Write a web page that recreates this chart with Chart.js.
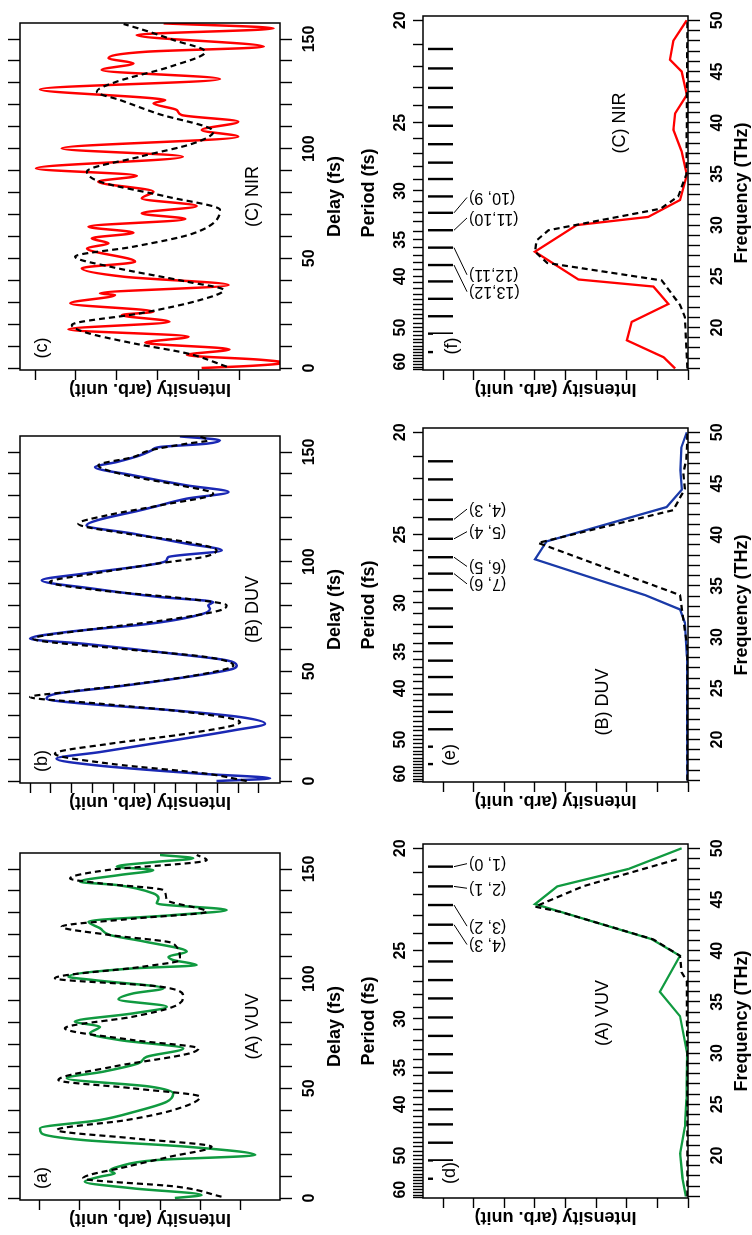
<!DOCTYPE html>
<html><head><meta charset="utf-8">
<script src="https://cdn.jsdelivr.net/npm/chart.js@4.4.1/dist/chart.umd.min.js"></script>
<style>
html,body{margin:0;padding:0;background:#fff;overflow:hidden;width:752px;height:1235px;}
#fig{position:absolute;left:0;top:0;width:1235px;height:752px;transform-origin:0 0;transform:translate(0px,1235px) rotate(-90deg);background:#fff;}
#fig canvas{position:absolute;}
</style></head><body><div id="fig"></div>
<script>
// ---------------- axis ticks ----------------
const delayTicks = [0,10,20,30,40,50,60,70,80,90,100,110,120,130,140,150];
const delayLabels = [0,50,100,150];
const freqTicks = [16,17,18,19,20,21,22,23,24,25,26,27,28,29,30,31,32,33,34,35,36,37,38,39,40,41,42,43,44,45,46,47,48,49,50];
const freqLabels = [20,25,30,35,40,45,50];
const periodTicks = [20,21,22,23,24,25,26,27,28,29,30,31,32,33,34,35,36,37,38,39,40,41,42,43,44,45,46,47,48,49,50,51,52,53,54,55,56,57,58,59,60,61,62,63];
const periodLabels = [20,25,30,35,40,50,60];
const intTicks6 = [0,1,2,3,4,5];
const intTicks12 = [0,1,2,3,4,5,6,7,8,9,10,11];
const intTicksSpec = [0,1,2,3,4,5,6,7,8];

// ---------------- time traces: [delay fs, intensity] ----------------
const vuvSolid = [[0,1.63],[1.37,0.96],[4.41,2.67],[7.45,3.88],[9.73,3.5],[11.25,3.13],[12.46,3.25],[14.29,3.04],[17.33,2.08],[19.6,-0.38],[23.4,1.33],[26.44,3.92],[29.48,4.96],[31.76,5.0],[35.56,3.5],[39.36,2.63],[43.9,1.83],[47.7,1.67],[50.8,2.25],[54.6,4.33],[57.6,3.42],[61.4,2.54],[64.4,2.33],[68.2,1.42],[72.0,3.0],[75.1,3.75],[78.1,3.5],[80.4,4.13],[84.2,2.67],[87.2,1.83],[90.6,3.04],[93.3,2.67],[95.6,1.92],[99.4,3.67],[100.9,4.29],[104.7,2.67],[106.2,1.08],[108.5,1.67],[110.0,1.79],[112.3,1.33],[116.9,2.38],[119.9,3.25],[123.0,3.5],[126.0,3.79],[129.0,1.67],[131.3,0.33],[134.3,2.08],[136.6,2.04],[138.9,2.17],[142.7,3.08],[144.2,4.0],[147.3,3.0],[149.5,2.17],[151.1,3.08],[153.3,2.08],[154.9,1.17],[156.4,2.0]];
const vuvDash = [[0.61,0.46],[5.17,1.58],[8.97,3.92],[14.29,2.83],[18.84,1.75],[23.4,0.71],[27.2,2.67],[31.0,4.58],[35.56,2.83],[40.1,1.67],[46.2,1.0],[50.0,2.67],[53.8,4.54],[59.9,3.17],[66.0,1.25],[68.2,1.04],[72.0,2.67],[77.4,4.38],[82.7,2.67],[87.2,1.67],[91.8,1.42],[96.4,2.0],[100.2,4.63],[105.5,2.42],[108.5,1.5],[116.1,1.67],[119.9,3.25],[123.7,4.46],[127.5,2.58],[130.5,0.83],[135.9,1.83],[140.4,1.92],[143.5,3.5],[145.7,4.25],[149.5,3.33],[154.1,0.83],[156.4,1.08]];
const duvSolid = [[0,2.04],[1.22,-0.53],[3.34,2.84],[7.14,7.8],[10.18,9.73],[13.22,7.64],[18.54,4.12],[23.1,1.23],[26.14,-0.29],[29.18,0.91],[32.22,4.12],[36.02,9.25],[37.54,10.21],[39.82,9.73],[42.86,7.0],[47.42,3.48],[51.22,1.23],[52.74,1.07],[55.02,1.55],[58.05,4.12],[62.61,8.45],[64.89,11.01],[67.93,9.25],[71.73,5.24],[76.29,2.68],[78.57,2.36],[80.1,2.44],[81.6,2.2],[83.89,4.76],[87.69,7.96],[91.49,10.45],[94.53,8.45],[99.09,4.92],[100.6,4.44],[102.1,4.36],[105.17,1.79],[108.21,3.48],[112.77,6.04],[116.57,8.29],[118.84,7.8],[123.4,5.72],[124.92,5.08],[128.72,3.48],[131.76,1.47],[134.8,3.48],[139.36,6.04],[143.16,7.88],[145.44,6.84],[148.48,5.72],[150.76,5.16],[152.28,4.76],[153.8,2.52],[155.32,1.88],[157.14,3.8]];
const duvDash = [[0,0.59],[3.34,2.52],[7.9,7.16],[12.46,9.81],[17.02,7.16],[21.58,3.48],[26.9,0.91],[31.46,3.48],[35.26,7.64],[38.3,11.01],[40.58,9.25],[45.14,5.24],[49.7,2.2],[52.74,1.23],[56.53,2.52],[60.33,6.68],[64.89,10.85],[68.69,8.45],[73.25,4.6],[77.81,1.88],[80.1,1.55],[83.13,3.48],[86.93,7.64],[90.73,10.05],[94.53,7.96],[99.09,4.92],[102.13,2.68],[105.17,2.04],[108.97,3.48],[112.77,6.36],[117.33,8.69],[121.12,7.32],[125.68,4.76],[131.0,2.2],[134.8,3.8],[139.36,6.36],[143.92,7.72],[147.72,6.04],[150.76,5.24],[153.8,3.48],[155.32,2.44],[157.14,2.84]];
const nirSolid = [[0,0.92],[1.06,-0.35],[2.43,-1.09],[3.8,-0.51],[5.93,1.28],[8.51,0.24],[11.55,2.3],[14.29,1.24],[17.63,4.18],[21.12,1.71],[24.16,2.88],[25.68,2.1],[29.48,4.14],[33.28,3.04],[34.04,3.41],[37.84,0.26],[41.64,2.83],[45.44,3.86],[48.48,2.55],[54.56,3.73],[56.84,3.2],[59.12,3.61],[61.7,2.59],[64.44,3.69],[67.93,1.32],[70.52,2.39],[73.86,1.04],[77.36,2.39],[80.4,2.1],[84.95,3.45],[87.69,2.51],[91.03,4.98],[96.35,1.38],[100.15,4.35],[105.47,0.02],[108.51,0.92],[112.31,0.02],[115.35,1.41],[117.63,1.53],[120.67,2.1],[122.19,1.81],[122.95,2.1],[127.05,4.88],[131.76,0.47],[135.87,3.37],[138.91,2.59],[141.19,3.2],[144.22,2.26],[146.5,-0.6],[151.82,2.51],[154.86,-0.84],[157.14,1.85]];
const nirDash = [[0.61,0.3],[6.69,1.28],[11.25,2.59],[16.57,3.82],[19.6,4.1],[24.92,2.43],[31.0,0.96],[35.56,0.38],[39.36,1.28],[46.2,3.16],[50.76,4.02],[55.32,2.59],[61.4,1.12],[72.04,0.47],[78.12,1.77],[84.95,3.41],[89.51,3.73],[96.35,2.43],[102.43,1.12],[107.75,0.63],[116.11,2.02],[122.19,2.92],[125.99,3.49],[130.55,3.0],[137.39,1.69],[144.22,0.83],[149.54,1.61],[154.1,2.34],[156.84,2.83]];

// ---------------- spectra: [frequency THz, intensity] ----------------
const vuvSpec = [[16.0,0.07],[17.8,0.18],[20.2,0.26],[22.8,0.1],[25.5,0.05],[30.0,0.03],[33.6,0.26],[35.98,0.92],[39.5,0.26],[41.13,1.19],[44.55,5.0],[46.28,4.27],[47.98,1.95],[50.0,0.21]];
const vuvSpecDash = [[16.0,0.02],[30.0,0.02],[34.0,0.04],[37.05,0.04],[37.9,0.21],[39.5,0.26],[41.1,1.13],[43.8,4.18],[44.3,5.0],[46.3,3.42],[48.96,0.32]];
const duvSpec = [[16.0,0.02],[28.1,0.04],[31.4,0.1],[32.7,0.26],[34.1,1.4],[37.6,5.0],[39.35,4.62],[42.7,0.7],[44.4,0.2],[46.3,0.25],[48.5,0.22],[50.0,0.04]];
const duvSpecDash = [[16.0,0.02],[29.0,0.02],[32.7,0.2],[34.1,0.26],[39.2,4.9],[42.4,0.48],[44.5,0.1],[46.0,0.15],[47.5,0.05],[50.0,0.02]];
const nirSpec = [[16.0,0.42],[17.1,0.8],[18.75,2.0],[20.55,1.84],[22.3,0.64],[24.0,1.13],[24.69,3.58],[27.4,5.0],[30.0,3.64],[30.8,1.3],[32.45,0.26],[34.9,0.04],[37.2,0.21],[39.3,0.48],[40.9,0.42],[42.7,0.04],[45.0,0.21],[46.15,0.59],[48.0,0.48],[50.0,0.04]];
const nirSpecDash = [[16.0,0.02],[21.0,0.1],[22.2,0.26],[24.6,0.86],[26.3,4.6],[27.4,5.0],[28.5,4.95],[29.5,4.56],[31.6,0.9],[32.8,0.32],[35.0,0.05],[50.0,0.02]];

// vibrational progression markers (THz) and assignments
const combVUV = [48.21,46.28,44.46,42.54,40.74,38.95,37.13,35.34,33.48,31.68,29.89,28.09,26.30,24.51,23.04,21.25,19.52,17.73];
const combDUV = [47.17,45.4,43.4,41.5,39.6,37.8,36.2,34.6,32.8,31.0,29.4,27.7,26.1,24.4,22.7,21.0,19.3,17.6];
const combNIR = [47.2,45.3,43.4,41.5,39.7,37.9,36.1,34.5,32.8,31.2,29.5,27.8,26.1,24.5,22.8,21.1,19.4,17.6];
const assignVUV = ['(1, 0)','(2, 1)','(3, 2)','(4, 3)'];
const assignDUV = ['(4, 3)','(5, 4)','(6, 5)','(7, 6)'];
const assignNIR = ['(10, 9)','(11,10)','(12,11)','(13,12)'];

// ---------------- rendering ----------------
const FONT = "'Liberation Sans', Arial, Helvetica, sans-serif";
Chart.defaults.font.family = FONT;
Chart.defaults.color = '#000';
const fig = document.getElementById('fig');
const pts = a => a.map(p => ({x: p[0], y: p[1]}));
const fixTicks = vals => s => { s.ticks = vals.slice().sort((a,b)=>a-b).map(v => ({value: v})); };
const tickGrid = len => ({drawOnChartArea:false, drawTicks:true, tickLength:len, tickColor:'#000', tickWidth:1.4});

function makeCanvas(left, top, w, h){
  const cv = document.createElement('canvas');
  cv.width = w; cv.height = h;
  cv.style.left = left + 'px'; cv.style.top = top + 'px';
  cv.style.width = w + 'px'; cv.style.height = h + 'px';
  fig.appendChild(cv);
  return cv;
}
function frame(chart){
  const {ctx, chartArea:a} = chart;
  ctx.save(); ctx.strokeStyle = '#000'; ctx.lineWidth = 1.5;
  ctx.strokeRect(a.left, a.top, a.right - a.left, a.bottom - a.top);
  ctx.restore();
}

const TW = 347, FW = 354;
function timePanel(p){
  const cv = makeCanvas(p.left - 30, 0, 30 + TW + 22, 345);
  new Chart(cv, {
    type: 'line',
    data: {datasets: [
      {data: pts(p.dash), borderColor:'#000', borderWidth:2.2, borderDash:[6,4], pointRadius:0, cubicInterpolationMode:'monotone', fill:false},
      {data: pts(p.solid), borderColor:p.color, borderWidth:2.5, pointRadius:0, cubicInterpolationMode:'monotone', fill:false}
    ]},
    options: {
      responsive:false, animation:false, devicePixelRatio:1,
      layout:{padding:{left:0, top:0, right:22, bottom:0}},
      plugins:{legend:{display:false}, tooltip:{enabled:false}},
      scales:{
        x:{type:'linear', position:'bottom', min:-0.9, max:157.3, afterBuildTicks:fixTicks(delayTicks), afterFit:s=>{s.height=65;},
           grid:tickGrid(12), border:{display:false},
           ticks:{autoSkip:false, maxRotation:0, minRotation:0, padding:10, color:'#000', font:{size:16, weight:'bold', lineHeight:1},
                  callback:v => delayLabels.includes(v) ? String(v) : ''},
           title:{display:true, text:'Delay (fs)', color:'#000', font:{size:18, weight:'bold', lineHeight:1}, padding:{top:0, bottom:1}}},
        xTop:{type:'linear', position:'top', min:-0.9, max:157.3, afterBuildTicks:fixTicks(delayTicks), afterFit:s=>{s.height=20;},
           grid:tickGrid(12), border:{display:false}, ticks:{display:false}},
        y:{type:'linear', position:'left', min:p.iMin, max:p.iMax, afterBuildTicks:fixTicks(p.iTicks), afterFit:s=>{s.width=30;},
           grid:tickGrid(10), border:{display:false}, ticks:{display:false},
           title:{display:true, text:'Intensity (arb. unit)', color:'#000', font:{size:18, weight:'bold', lineHeight:1}, padding:{top:2, bottom:0}}}
      }
    },
    plugins:[{id:'deco', afterDatasetsDraw(chart){
      frame(chart);
      const {ctx, chartArea:a} = chart;
      ctx.save(); ctx.fillStyle = '#000'; ctx.font = '18px ' + FONT;
      ctx.textAlign = 'center'; ctx.textBaseline = 'middle';
      ctx.fillText(p.tag, a.left + 22, a.top + 22);
      ctx.fillText(p.name, (a.left + a.right) / 2, a.bottom - 27);
      ctx.restore();
    }}]
  });
}

function specPanel(p){
  const cv = makeCanvas(p.left - 30, 355, 30 + FW + 22, 397);
  new Chart(cv, {
    type: 'line',
    data: {datasets: [
      {data: pts(p.dash), borderColor:'#000', borderWidth:2.2, borderDash:[6,4], pointRadius:0, tension:0, fill:false},
      {data: pts(p.solid), borderColor:p.color, borderWidth:2.3, pointRadius:0, tension:0, fill:false}
    ]},
    options: {
      responsive:false, animation:false, devicePixelRatio:1,
      layout:{padding:{left:0, top:0, right:22, bottom:0}},
      plugins:{legend:{display:false}, tooltip:{enabled:false}},
      scales:{
        x:{type:'linear', position:'bottom', min:15.85, max:50.42, afterBuildTicks:fixTicks(freqTicks), afterFit:s=>{s.height=64;},
           grid:tickGrid(12), border:{display:false},
           ticks:{autoSkip:false, maxRotation:0, minRotation:0, padding:10, color:'#000', font:{size:16, weight:'bold', lineHeight:1},
                  callback:v => freqLabels.includes(v) ? String(v) : ''},
           title:{display:true, text:'Frequency (THz)', color:'#000', font:{size:18, weight:'bold', lineHeight:1}, padding:{top:0, bottom:1}}},
        xPer:{type:'linear', position:'top', min:15.85, max:50.42, afterBuildTicks:fixTicks(periodTicks.map(t => 1000 / t)), afterFit:s=>{s.height=68;},
           grid:tickGrid(10), border:{display:false},
           ticks:{autoSkip:false, maxRotation:0, minRotation:0, padding:4, color:'#000', font:{size:16, weight:'bold', lineHeight:1},
                  callback:v => { const t = Math.round(1000 / v); return periodLabels.includes(t) ? String(t) : ''; }},
           title:{display:true, text:'Period (fs)', color:'#000', font:{size:18, weight:'bold', lineHeight:1}, padding:{top:5, bottom:0}}},
        y:{type:'linear', position:'left', min:0, max:8.66, afterBuildTicks:fixTicks(intTicksSpec), afterFit:s=>{s.width=30;},
           grid:tickGrid(10), border:{display:false}, ticks:{display:false},
           title:{display:true, text:'Intensity (arb. unit)', color:'#000', font:{size:18, weight:'bold', lineHeight:1}, padding:{top:2, bottom:0}}}
      }
    },
    plugins:[{id:'deco', afterDatasetsDraw(chart){
      const {ctx, chartArea:a} = chart;
      const xs = chart.scales.x;
      ctx.save();
      // progression markers
      ctx.strokeStyle = '#000'; ctx.lineWidth = 2.4;
      p.comb.forEach(f => {
        const X = xs.getPixelForValue(f);
        ctx.beginPath(); ctx.moveTo(X, a.top + 5); ctx.lineTo(X, a.top + 30); ctx.stroke();
      });
      // panel tag on white box
      const tx = a.left + p.tagPos[0], ty = a.top + p.tagPos[1];
      ctx.fillStyle = '#fff'; ctx.fillRect(tx - 12, a.top + 10, 24, ty - a.top + 8);
      ctx.fillStyle = '#000'; ctx.font = '18px ' + FONT; ctx.textAlign = 'center'; ctx.textBaseline = 'middle';
      ctx.fillText(p.tag, tx, ty);
      ctx.fillText(p.name, a.left + p.namePos[0], a.top + p.namePos[1]);
      // assignments with leader lines
      ctx.lineWidth = 1; ctx.font = '16px ' + FONT;
      p.assign.forEach((txt, i) => {
        const bx = xs.getPixelForValue(p.comb[p.assignIdx[i]]);
        const lx = xs.getPixelForValue(p.labelAt[i]);
        ctx.beginPath(); ctx.moveTo(bx, a.top + 31); ctx.lineTo(lx, a.top + 44); ctx.stroke();
        ctx.save(); ctx.translate(lx, a.top + 46); ctx.rotate(-Math.PI / 2);
        ctx.textAlign = 'right'; ctx.textBaseline = 'middle'; ctx.fillText(txt, 0, 0);
        ctx.restore();
      });
      ctx.restore();
      frame(chart);
    }}]
  });
}

timePanel({left:35,  solid:vuvSolid, dash:vuvDash, color:'#109a40', iMin:-1.0,  iMax:5.5,   iTicks:intTicks6,  tag:'(a)', name:'(A) VUV'});
timePanel({left:452, solid:duvSolid, dash:duvDash, color:'#1a28b4', iMin:-1.01, iMax:11.49, iTicks:intTicks12, tag:'(b)', name:'(B) DUV'});
timePanel({left:865, solid:nirSolid, dash:nirDash, color:'#ff0000', iMin:-1.0,  iMax:5.37,  iTicks:intTicks6,  tag:'(c)', name:'(C) NIR'});

specPanel({left:37,  solid:vuvSpec, dash:vuvSpecDash, color:'#109a40', comb:combVUV, assign:assignVUV, assignIdx:[0,1,2,3],
           labelAt:[48.5,46.1,42.4,40.6], tag:'(d)', tagPos:[25,27], name:'(A) VUV', namePos:[185,180]});
specPanel({left:453, solid:duvSpec, dash:duvSpecDash, color:'#1a3aa8', comb:combDUV, assign:assignDUV, assignIdx:[3,4,5,6],
           labelAt:[42.5,40.3,36.9,35.2], tag:'(e)', tagPos:[27,27], name:'(B) DUV', namePos:[80,180]});
specPanel({left:865, solid:nirSpec, dash:nirSpecDash, color:'#ff0000', comb:combNIR, assign:assignNIR, assignIdx:[9,10,11,12],
           labelAt:[32.7,30.7,25.15,23.5], tag:'(f)', tagPos:[24,29], name:'(C) NIR', namePos:[247,197]});
</script></body></html>
